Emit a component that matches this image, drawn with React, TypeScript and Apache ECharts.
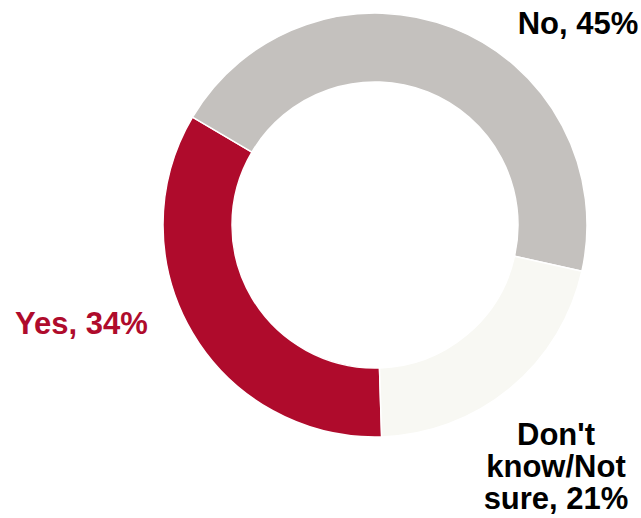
import React, { useEffect, useRef } from "react";
import * as echarts from "echarts";

const categories = ["Yes", "No", "Don't know/Not sure"];
const labelTexts = ["Yes, 34%", "No, 45%", "Don't\nknow/Not\nsure, 21%"];
const values = [34, 45, 21];
const colors = ["#AF0B2C", "#C4C1BE", "#F8F8F3"];
const labelColors = ["#AF0B2C", "#000000", "#000000"];

export default function App() {
  const ref = useRef<HTMLDivElement>(null);
  useEffect(() => {
    if (!ref.current) return;
    const chart = echarts.init(ref.current, null, { renderer: "svg" });
    const labelPos = [
      { x: 15, y: 323, align: "left" },
      { x: 578, y: 23, align: "center" },
      { x: 556, y: 466, align: "center" },
    ];
    chart.setOption({
      animation: false,
      backgroundColor: "#ffffff",
      series: [
        {
          type: "pie",
          center: [375, 225],
          radius: [143, 212],
          startAngle: -88.2,
          clockwise: true,
          avoidLabelOverlap: false,
          itemStyle: { borderColor: "#ffffff", borderWidth: 1.5 },
          labelLine: { show: false },
          label: {
            show: true,
            position: "outside",
            fontFamily: "Liberation Sans, Arial, sans-serif",
            fontWeight: "bold",
            fontSize: 31,
            lineHeight: 32,
          },
          labelLayout: (params: any) => {
            const p = labelPos[params.dataIndex];
            return { x: p.x, y: p.y, align: p.align, verticalAlign: "middle" };
          },
          emphasis: { disabled: true },
          data: categories.map((name, i) => ({
            name,
            value: values[i],
            itemStyle: { color: colors[i] },
            label: { formatter: labelTexts[i], color: labelColors[i] },
          })),
        },
      ],
    });
    return () => chart.dispose();
  }, []);
  return (
    <div
      ref={ref}
      style={{ position: "fixed", left: 0, top: 0, width: 641, height: 518 }}
    />
  );
}
